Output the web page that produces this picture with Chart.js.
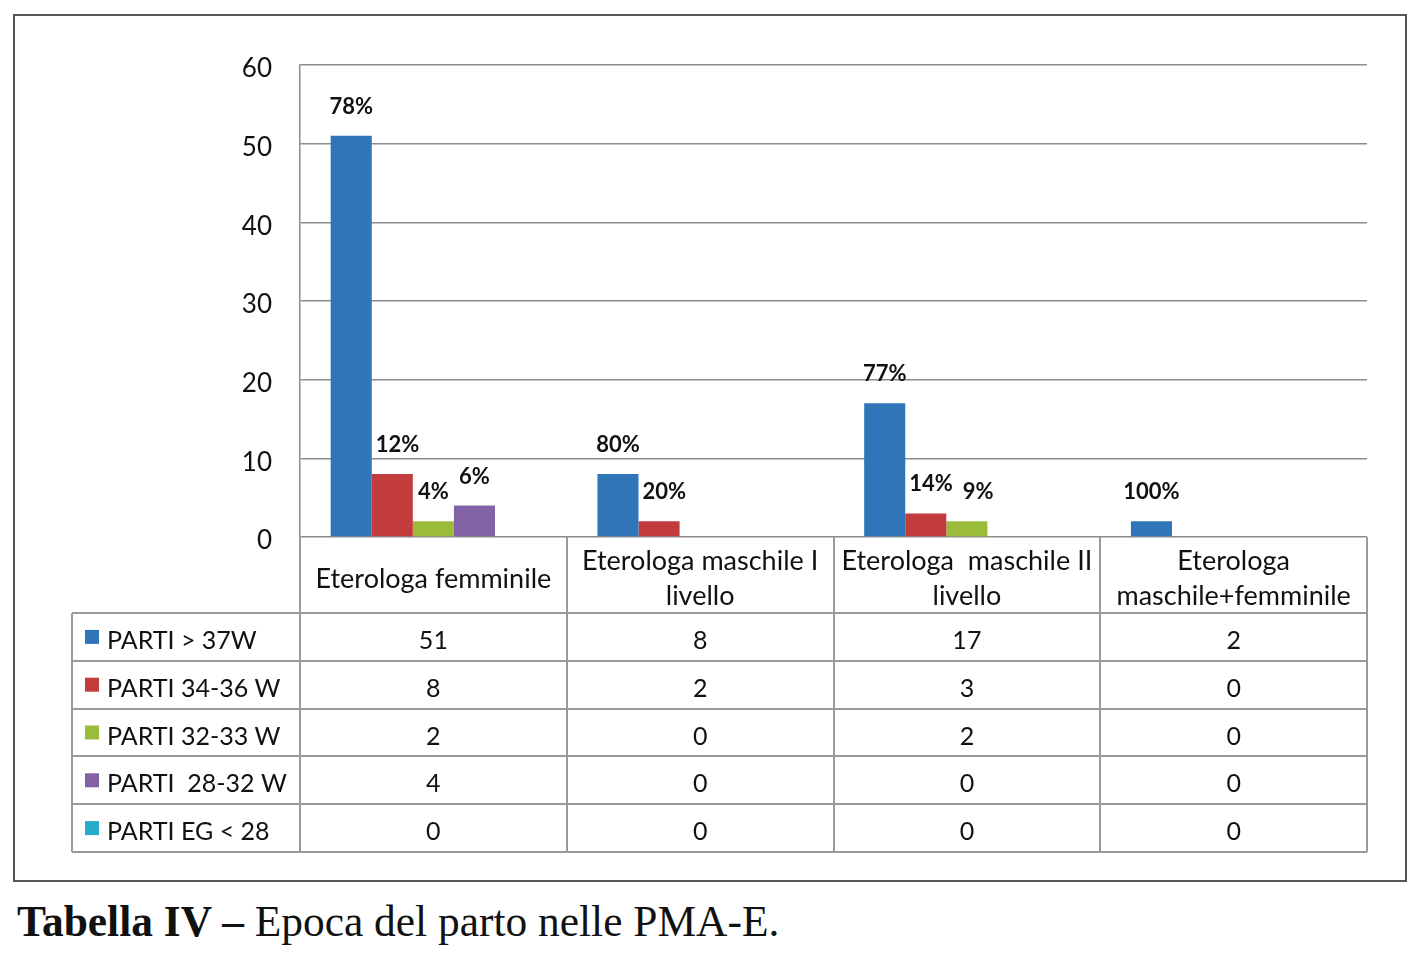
<!DOCTYPE html>
<html>
<head>
<meta charset="utf-8">
<script src="https://cdn.jsdelivr.net/npm/chart.js@4.4.1/dist/chart.umd.min.js"></script>
<style>
    body { margin: 0; background: #fff; width: 1421px; height: 956px; position: relative; overflow: hidden; }
    #wrap { position: absolute; left: 0; top: 0; width: 1421px; height: 884px; }
    #frame { position: absolute; left: 13px; top: 14px; width: 1394px; height: 868px; border: 2px solid #555; box-sizing: border-box; pointer-events: none; }
    #caption { position: absolute; left: 17px; top: 895px; font-family: "Liberation Serif", "DejaVu Serif", serif; font-size: 45px; color: #111; white-space: nowrap; transform: scaleX(0.965); transform-origin: left top; }
    #caption b { font-weight: bold; }
</style>
</head>
<body>
<div id="wrap"><canvas id="chart"></canvas></div>
<div id="frame"></div>
<div id="caption"><b>Tabella IV –</b> Epoca del parto nelle PMA-E.</div>
<script>
// categorie (righe multiple come nell'originale)
const categories = [
    ['Eterologa femminile'],
    ['Eterologa maschile I', 'livello'],
    ['Eterologa  maschile II', 'livello'],
    ['Eterologa', 'maschile+femminile']
];
const seriesNames = ['PARTI > 37W', 'PARTI 34-36 W', 'PARTI 32-33 W', 'PARTI  28-32 W', 'PARTI EG < 28'];
const seriesColors = ['#2f75b8', '#c23b3d', '#9bbb3a', '#8162a4', '#27abc8'];

const parti37 = [51, 8, 17, 2];
const parti3436 = [8, 2, 3, 0];
const parti3233 = [2, 0, 2, 0];
const parti2832 = [4, 0, 0, 0];
const partiEG = [0, 0, 0, 0];

// etichette percentuali sopra le barre
const pct37 = ['78%', '80%', '77%', '100%'];
const pct3436 = ['12%', '20%', '14%', ''];
const pct3233 = ['4%', '', '9%', ''];
const pct2832 = ['6%', '', '', ''];
const pctEG = ['', '', '', ''];

const yMin = 0, yMax = 60, yStep = 10;

const seriesValues = [parti37, parti3436, parti3233, parti2832, partiEG];
const seriesPct = [pct37, pct3436, pct3233, pct2832, pctEG];

const FONT = 'Lato, "Open Sans", sans-serif';

function overlaps(a, b) {
    return a.l < b.r && a.r > b.l && a.t < b.b && a.b > b.t;
}

// etichette sopra le barre, spostate a destra se coprono barre o altre etichette
const pctLabels = {
    id: 'pctLabels',
    afterDatasetsDraw(chart) {
        const ctx = chart.ctx;
        ctx.save();
        ctx.font = 'bold 22px ' + FONT;
        ctx.fillStyle = '#111';
        ctx.textAlign = 'center';
        ctx.textBaseline = 'middle';
        const metas = chart.data.datasets.map((ds, di) => chart.getDatasetMeta(di));
        for (let i = 0; i < categories.length; i++) {
            const placed = [];
            const bars = [];
            metas.forEach((meta, di) => {
                const bar = meta.data[i];
                const half = bar.width / 2;
                const txt = seriesPct[di][i];
                if (txt) {
                    const w = ctx.measureText(txt).width;
                    const y = bar.y - 29;
                    let box = { l: bar.x - w / 2, r: bar.x + w / 2, t: y - 11, b: y + 11 };
                    bars.forEach(bb => {
                        if (overlaps(box, bb)) box = { l: bb.r + 4, r: bb.r + 4 + w, t: box.t, b: box.b };
                    });
                    placed.forEach(pb => {
                        if (overlaps(box, pb)) box = { l: pb.r + 10, r: pb.r + 10 + w, t: box.t, b: box.b };
                    });
                    ctx.fillText(txt, (box.l + box.r) / 2, y);
                    placed.push(box);
                }
                bars.push({ l: bar.x - half, r: bar.x + half, t: bar.y, b: bar.base });
            });
        }
        ctx.restore();
    }
};

const dataTable = {
    id: 'dataTable',
    afterDraw(chart) {
        const ctx = chart.ctx;
        const area = chart.chartArea;
        const xs = chart.scales.x;
        const colW = (area.right - area.left) / categories.length;
        const headerH = 76;
        const rowH = 47.8;
        const tableLeft = area.left - 228;
        const top = area.bottom;
        const rowsTop = top + headerH;
        const bottom = rowsTop + rowH * seriesNames.length;

        ctx.save();
        ctx.strokeStyle = '#9a9a9a';
        ctx.lineWidth = 2;
        ctx.beginPath();
        for (let r = 0; r <= seriesNames.length; r++) {
            const y = Math.round(rowsTop + r * rowH);
            ctx.moveTo(tableLeft, y);
            ctx.lineTo(area.right, y);
        }
        for (let c = 0; c <= categories.length; c++) {
            const x = Math.round(area.left + c * colW);
            ctx.moveTo(x, top);
            ctx.lineTo(x, bottom);
        }
        ctx.moveTo(tableLeft, rowsTop);
        ctx.lineTo(tableLeft, bottom);
        ctx.stroke();

        ctx.fillStyle = '#111';
        ctx.textAlign = 'center';
        ctx.textBaseline = 'middle';
        ctx.font = '27px ' + FONT;
        categories.forEach((lines, c) => {
            const cx = xs.getPixelForTick(c);
            const lh = 35;
            const y0 = top + headerH / 2 - (lines.length - 1) * lh / 2 + 4;
            lines.forEach((ln, k) => ctx.fillText(ln, cx, y0 + k * lh));
        });
        ctx.font = '25px ' + FONT;
        seriesNames.forEach((name, r) => {
            const cy = rowsTop + r * rowH + rowH / 2 + 4;
            ctx.fillStyle = seriesColors[r];
            ctx.fillRect(tableLeft + 13, cy - 11, 14, 14);
            ctx.fillStyle = '#111';
            ctx.textAlign = 'left';
            ctx.fillText(name, tableLeft + 35, cy);
            ctx.textAlign = 'center';
            seriesValues[r].forEach((v, c) => {
                ctx.fillText(String(v), xs.getPixelForTick(c), cy);
            });
        });
        ctx.restore();
    }
};

new Chart(document.getElementById('chart'), {
    type: 'bar',
    data: {
        labels: categories,
        datasets: seriesNames.map((name, i) => ({
            label: name,
            data: seriesValues[i],
            backgroundColor: seriesColors[i],
            borderWidth: 0,
            categoryPercentage: 0.77,
            barPercentage: 1.0
        }))
    },
    options: {
        responsive: true,
        maintainAspectRatio: false,
        animation: false,
        layout: { padding: { left: 0, right: 54, top: 65, bottom: 347 } },
        plugins: {
            legend: { display: false },
            tooltip: { enabled: false }
        },
        scales: {
            x: { display: false },
            y: {
                min: yMin,
                max: yMax,
                ticks: { stepSize: yStep, color: '#111', font: { family: FONT, size: 26 }, padding: 28, labelOffset: 4 },
                grid: { color: '#8c8c8c', lineWidth: 1.5, drawTicks: false },
                border: { color: '#8c8c8c', width: 1.5 },
                afterFit(scale) { scale.width = 300; }
            }
        }
    },
    plugins: [pctLabels, dataTable]
});
</script>
</body>
</html>
